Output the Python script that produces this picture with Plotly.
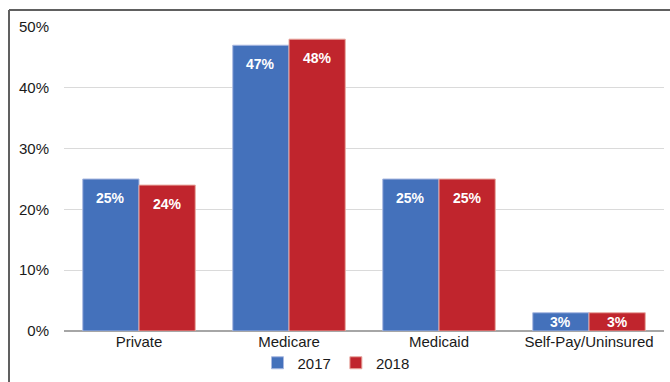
import plotly.graph_objects as go

categories = ["Private", "Medicare", "Medicaid", "Self-Pay/Uninsured"]
share_2017 = [25, 47, 25, 3]
share_2018 = [24, 48, 25, 3]
tick_vals = [0, 10, 20, 30, 40, 50]
tick_text = ["0%", "10%", "20%", "30%", "40%", "50%"]

W, H = 670, 382
ml, mr, mt, mb = 64, 6, 27, 51
pw, ph = W - ml - mr, H - mt - mb
BARGAP = 0.25
bar_px = pw / len(categories) * (1 - BARGAP) / 2

fig = go.Figure()
series = [
    ("2017", share_2017, "#4471BB", "#A9B8E0", -0.5),
    ("2018", share_2018, "#C0252D", "#E8A9A0", 0.5),
]
for name, vals, color, edge, side in series:
    fig.add_trace(go.Bar(
        x=categories, y=vals, name=name,
        marker=dict(color=color, line=dict(color=edge, width=1)),
    ))
    # white value labels near the top of each bar
    for cat, v in zip(categories, vals):
        short = v < 6
        fig.add_annotation(
            x=cat, y=v / 2 if short else v, xref="x", yref="y",
            xshift=side * bar_px, yshift=0 if short else -9,
            yanchor="middle" if short else "top",
            text=f"<b>{v}%</b>", showarrow=False,
            font=dict(family="Liberation Sans, Arial", size=14, color="white"),
        )

# frame around the chart (left and top edges)
px = lambda x: (x - ml) / pw
py = lambda y: (H - mb - y) / ph
fig.add_shape(type="line", xref="paper", yref="paper",
              x0=px(9), x1=px(9), y0=py(382), y1=py(10),
              line=dict(color="#606060", width=2))
fig.add_shape(type="line", xref="paper", yref="paper",
              x0=px(9), x1=px(672), y0=py(10), y1=py(10),
              line=dict(color="#606060", width=2))

fig.update_layout(
    width=W, height=H,
    margin=dict(l=ml, r=mr, t=mt, b=mb, autoexpand=False),
    paper_bgcolor="white", plot_bgcolor="white",
    barmode="group", bargap=BARGAP, bargroupgap=0,
    font=dict(family="Liberation Sans, Arial", size=15, color="#1a1a1a"),
    showlegend=True,
    legend=dict(orientation="h", x=px(336), xanchor="center", y=py(363), yanchor="middle",
                font=dict(size=15), itemwidth=30, traceorder="normal",
                bgcolor="rgba(0,0,0,0)"),
)
fig.update_xaxes(showline=False, ticks="", tickfont=dict(size=15))
fig.update_yaxes(range=[0, 50], tickvals=tick_vals, ticktext=tick_text,
                 showgrid=True, gridcolor="#DADADA", gridwidth=1,
                 zeroline=True, zerolinecolor="#A6A6A6", zerolinewidth=2,
                 tickfont=dict(size=15), ticklabelstandoff=14)

fig.write_html("out.html")
